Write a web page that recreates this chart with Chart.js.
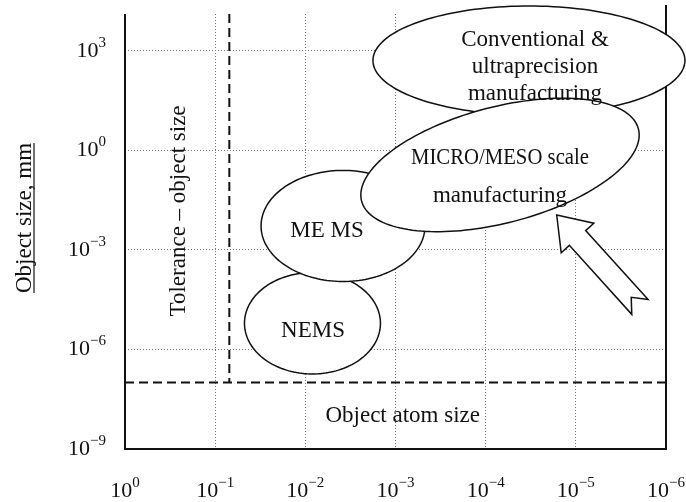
<!DOCTYPE html>
<html>
<head>
<meta charset="utf-8">
<script src="https://cdn.jsdelivr.net/npm/chart.js@4.4.0/dist/chart.umd.min.js"></script>
<style>
  body { margin: 0; background: #fff; }
</style>
</head>
<body>
<canvas id="chart" width="686" height="502"></canvas>
<script>
// axes (tolerance and object size, both log10)
const xTicks = [1, 1e-1, 1e-2, 1e-3, 1e-4, 1e-5, 1e-6];
const xTickExps = ['0', '\u22121', '\u22122', '\u22123', '\u22124', '\u22125', '\u22126'];
const yTicks = [1e3, 1, 1e-3, 1e-6, 1e-9];
const yTickExps = ['3', '0', '\u22123', '\u22126', '\u22129'];
const yMax = Math.pow(10, 4.1);

// limits (dashed lines)
const atomSizeLimit = 1e-7;
const toleranceLimit = Math.pow(10, -1.157);

// regions as ellipses in log10 space: centre + two half-axis vectors
const regionNames = ['NEMS', 'MEMS', 'Conventional', 'MICRO/MESO'];
const regionCentreX = [-2.079, -2.418, -4.48, -4.159];
const regionCentreY = [-5.214, -2.283, 2.70, -0.446];
const regionAxisU = [[0.754, 0], [0.909, 0], [1.73, 0], [-1.535, 1.086]];
const regionAxisV = [[0, 1.527], [0, 1.672], [0, 1.642], [0.162, 1.691]];

// text labels, anchored at log10 (x, y) baseline centre
const labelTexts = ['Conventional &', 'ultraprecision', 'manufacturing',
  'MICRO/MESO scale', 'manufacturing', 'ME MS', 'NEMS', 'Object atom size'];
const labelX = [-4.547, -4.547, -4.547, -4.159, -4.159, -2.24, -2.085, -3.08];
const labelY = [3.14, 2.31, 1.512, -0.416, -1.551, -2.614, -5.627, -8.178];

const toleranceText = 'Tolerance \u2013 object size';
const toleranceTextPos = [-0.66, -1.831];

// arrow pointing at the micro/meso region
const arrowTip = [-4.788, -1.952];
const arrowTail = [-5.711, -4.723];

const FONT = '"Liberation Serif", "Times New Roman", serif';

const logPx = (scale, lg) => scale.getPixelForValue(Math.pow(10, lg));

const drawPower = (ctx, exp, x, baseline, align) => {
  ctx.font = '22px ' + FONT;
  const w1 = ctx.measureText('10').width;
  ctx.font = '15px ' + FONT;
  const w2 = ctx.measureText(exp).width;
  const left = align === 'center' ? x - (w1 + w2) / 2 : x - (w1 + w2);
  ctx.textAlign = 'left';
  ctx.textBaseline = 'alphabetic';
  ctx.font = '22px ' + FONT;
  ctx.fillText('10', left, baseline);
  ctx.font = '15px ' + FONT;
  ctx.fillText(exp, left + w1, baseline - 10);
};

const diagramPlugin = {
  id: 'diagram',
  afterDatasetsDraw(chart) {
    const { ctx, chartArea: a } = chart;
    const x = chart.scales.x, y = chart.scales.y;
    ctx.save();

    // frame: left, bottom, right
    ctx.strokeStyle = '#111';
    ctx.lineWidth = 2;
    ctx.setLineDash([]);
    ctx.beginPath();
    ctx.moveTo(a.left, a.top);
    ctx.lineTo(a.left, a.bottom);
    ctx.lineTo(a.right, a.bottom);
    ctx.lineTo(a.right, a.top - 9);
    ctx.stroke();

    // regions
    regionNames.forEach((name, i) => {
      ctx.beginPath();
      for (let k = 0; k <= 160; k++) {
        const t = k / 160 * 2 * Math.PI;
        const lx = regionCentreX[i] + regionAxisU[i][0] * Math.cos(t) + regionAxisV[i][0] * Math.sin(t);
        const ly = regionCentreY[i] + regionAxisU[i][1] * Math.cos(t) + regionAxisV[i][1] * Math.sin(t);
        const px = logPx(x, lx), py = logPx(y, ly);
        if (k) ctx.lineTo(px, py); else ctx.moveTo(px, py);
      }
      ctx.closePath();
      ctx.fillStyle = '#fff';
      ctx.fill();
      ctx.lineWidth = 1.5;
      ctx.strokeStyle = '#111';
      ctx.stroke();
    });

    // labels
    ctx.fillStyle = '#111';
    ctx.textAlign = 'center';
    ctx.textBaseline = 'alphabetic';
    ctx.font = '23px ' + FONT;
    labelTexts.forEach((txt, i) => {
      const px = logPx(x, labelX[i]), py = logPx(y, labelY[i]);
      if (txt === 'MICRO/MESO scale') ctx.fillText(txt, px, py, 178);
      else ctx.fillText(txt, px, py);
    });

    // rotated tolerance label
    ctx.save();
    ctx.translate(logPx(x, toleranceTextPos[0]), logPx(y, toleranceTextPos[1]));
    ctx.rotate(-Math.PI / 2);
    ctx.fillText(toleranceText, 0, 0);
    ctx.restore();

    // arrow
    const tx = logPx(x, arrowTip[0]), ty = logPx(y, arrowTip[1]);
    const bx = logPx(x, arrowTail[0]), by = logPx(y, arrowTail[1]);
    const len = Math.hypot(tx - bx, ty - by);
    const dx = (tx - bx) / len, dy = (ty - by) / len;
    const nx = -dy, ny = dx;
    const headLen = 31, headW = 22, shaftW = 11, notch = 13;
    const at = (along, side) => [bx + dx * along + nx * side, by + dy * along + ny * side];
    const pts = [
      at(len, 0),
      at(len - headLen, headW),
      at(len - headLen, shaftW),
      at(0, shaftW),
      at(notch, 0),
      at(0, -shaftW),
      at(len - headLen, -shaftW),
      at(len - headLen, -headW)
    ];
    ctx.beginPath();
    pts.forEach((p, i) => i ? ctx.lineTo(p[0], p[1]) : ctx.moveTo(p[0], p[1]));
    ctx.closePath();
    ctx.fillStyle = '#fff';
    ctx.fill();
    ctx.lineWidth = 1.5;
    ctx.strokeStyle = '#111';
    ctx.stroke();

    // tick labels
    ctx.fillStyle = '#111';
    xTicks.forEach((v, i) => drawPower(ctx, xTickExps[i], x.getPixelForValue(v), a.bottom + 48, 'center'));
    yTicks.forEach((v, i) => drawPower(ctx, yTickExps[i], a.left - 19, y.getPixelForValue(v) + 6, 'right'));

    // y axis title, underlined
    ctx.save();
    ctx.translate(31, a.top + 204);
    ctx.rotate(-Math.PI / 2);
    ctx.font = '23px ' + FONT;
    ctx.textAlign = 'center';
    ctx.fillText('Object size, mm', 0, 0);
    const tw = ctx.measureText('Object size, mm').width;
    ctx.lineWidth = 1.2;
    ctx.beginPath();
    ctx.moveTo(-tw / 2, 3);
    ctx.lineTo(tw / 2, 3);
    ctx.stroke();
    ctx.restore();

    ctx.restore();
  }
};

const dashStyle = { borderColor: '#111', borderWidth: 2, borderDash: [9, 5], pointRadius: 0, showLine: true };

new Chart(document.getElementById('chart').getContext('2d'), {
  type: 'scatter',
  data: {
    datasets: [
      Object.assign({ data: [{ x: 1, y: atomSizeLimit }, { x: 1e-6, y: atomSizeLimit }] }, dashStyle),
      Object.assign({ data: [{ x: toleranceLimit, y: yMax }, { x: toleranceLimit, y: atomSizeLimit }] }, dashStyle)
    ]
  },
  options: {
    responsive: false,
    animation: false,
    layout: { padding: { left: 125, right: 20, top: 14, bottom: 53 } },
    plugins: { legend: { display: false }, tooltip: { enabled: false } },
    scales: {
      x: {
        type: 'logarithmic',
        reverse: true,
        min: 1e-6,
        max: 1,
        afterBuildTicks: s => { s.ticks = xTicks.map(v => ({ value: v })); },
        ticks: { display: false },
        grid: { color: '#777', lineWidth: 1, drawTicks: false },
        border: { display: false, dash: [1, 2] }
      },
      y: {
        type: 'logarithmic',
        min: 1e-9,
        max: yMax,
        afterBuildTicks: s => { s.ticks = yTicks.map(v => ({ value: v })); },
        ticks: { display: false },
        grid: { color: '#777', lineWidth: 1, drawTicks: false },
        border: { display: false, dash: [1, 2] }
      }
    }
  },
  plugins: [diagramPlugin]
});
</script>
</body>
</html>
